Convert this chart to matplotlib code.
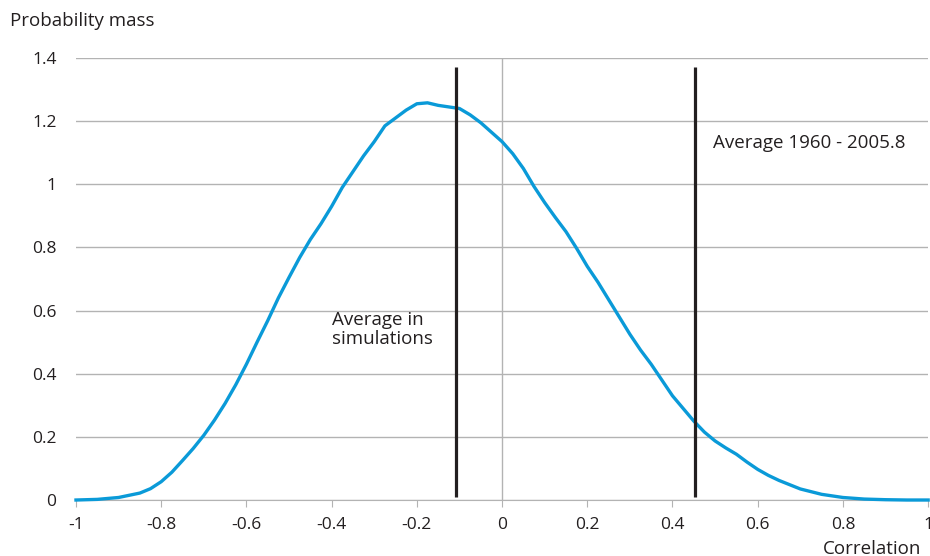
import numpy as np
import matplotlib.pyplot as plt

plt.rcParams['font.family'] = ['Open Sans', 'DejaVu Sans']

# Data
corr = [-1.0, -0.95, -0.9, -0.85, -0.825, -0.8, -0.775, -0.75, -0.725, -0.7, -0.675,
        -0.65, -0.625, -0.6, -0.575, -0.55, -0.525, -0.5, -0.475, -0.45, -0.425,
        -0.4, -0.375, -0.35, -0.325, -0.3, -0.275, -0.25, -0.225, -0.2, -0.175,
        -0.15, -0.125, -0.1, -0.075, -0.05, -0.025, 0.0, 0.025, 0.05, 0.075,
        0.1, 0.125, 0.15, 0.175, 0.2, 0.225, 0.25, 0.275, 0.3, 0.325,
        0.35, 0.375, 0.4, 0.425, 0.45, 0.475, 0.5, 0.525, 0.55, 0.575,
        0.6, 0.625, 0.65, 0.7, 0.75, 0.8, 0.85, 0.9, 0.95, 1.0]
mass = [0.0, 0.002, 0.008, 0.022, 0.036, 0.058, 0.088, 0.125, 0.163, 0.205, 0.253,
        0.306, 0.365, 0.43, 0.5, 0.568, 0.64, 0.705, 0.768, 0.825, 0.875,
        0.93, 0.99, 1.04, 1.09, 1.135, 1.185, 1.21, 1.235, 1.255, 1.258,
        1.25, 1.245, 1.24, 1.22, 1.195, 1.165, 1.135, 1.097, 1.05, 0.993,
        0.942, 0.895, 0.85, 0.797, 0.74, 0.69, 0.635, 0.58, 0.525, 0.475,
        0.43, 0.38, 0.33, 0.29, 0.25, 0.215, 0.187, 0.165, 0.145, 0.12,
        0.097, 0.078, 0.062, 0.035, 0.018, 0.008, 0.003, 0.001, 0.0, 0.0]
avg_sim = -0.108
avg_hist = 0.453

fig = plt.figure(figsize=(9.3, 5.56), dpi=100)
ax = fig.add_axes([0.0817, 0.1007, 0.9163, 0.795])

ax.plot(corr, mass, color='#0a9ad8', linewidth=2.4, clip_on=False, zorder=3)
ax.vlines([avg_sim, avg_hist], 0.01, 1.37, color='#231f20', linewidth=2.3, zorder=4)

ax.set_xlim(-1, 1)
ax.set_ylim(0, 1.4)
ax.set_xticks(np.arange(-1, 1.01, 0.2))
ax.set_xticklabels(['-1', '-0.8', '-0.6', '-0.4', '-0.2', '0', '0.2', '0.4', '0.6', '0.8', '1'])
ax.set_yticks(np.arange(0, 1.41, 0.2))
ax.set_yticklabels(['0', '0.2', '0.4', '0.6', '0.8', '1', '1.2', '1.4'])

ax.yaxis.grid(True, color='#b3b3b3', linewidth=1)
ax.axvline(0, color='#b3b3b3', linewidth=1, zorder=1)
ax.set_axisbelow(True)

for s in ['top', 'right', 'left']:
    ax.spines[s].set_visible(False)
ax.spines['bottom'].set_color('#b3b3b3')
ax.tick_params(axis='y', length=0, pad=14, labelsize=12.5, labelcolor='#231f20')
ax.tick_params(axis='x', length=5, color='#b3b3b3', direction='out', pad=7,
               labelsize=12.5, labelcolor='#231f20')

fig.text(0.011, 0.962, 'Probability mass', fontsize=13.5, color='#231f20', va='center')
fig.text(0.991, 0.013, 'Correlation', fontsize=13.5, color='#231f20', ha='right', va='center')
ax.text(0.495, 1.13, 'Average 1960 - 2005.8', fontsize=13.5, color='#231f20', va='center')
ax.text(-0.40, 0.54, 'Average in\nsimulations', fontsize=13.5, color='#231f20',
        va='center', linespacing=1.1)

fig.savefig('out.png', dpi=100)
